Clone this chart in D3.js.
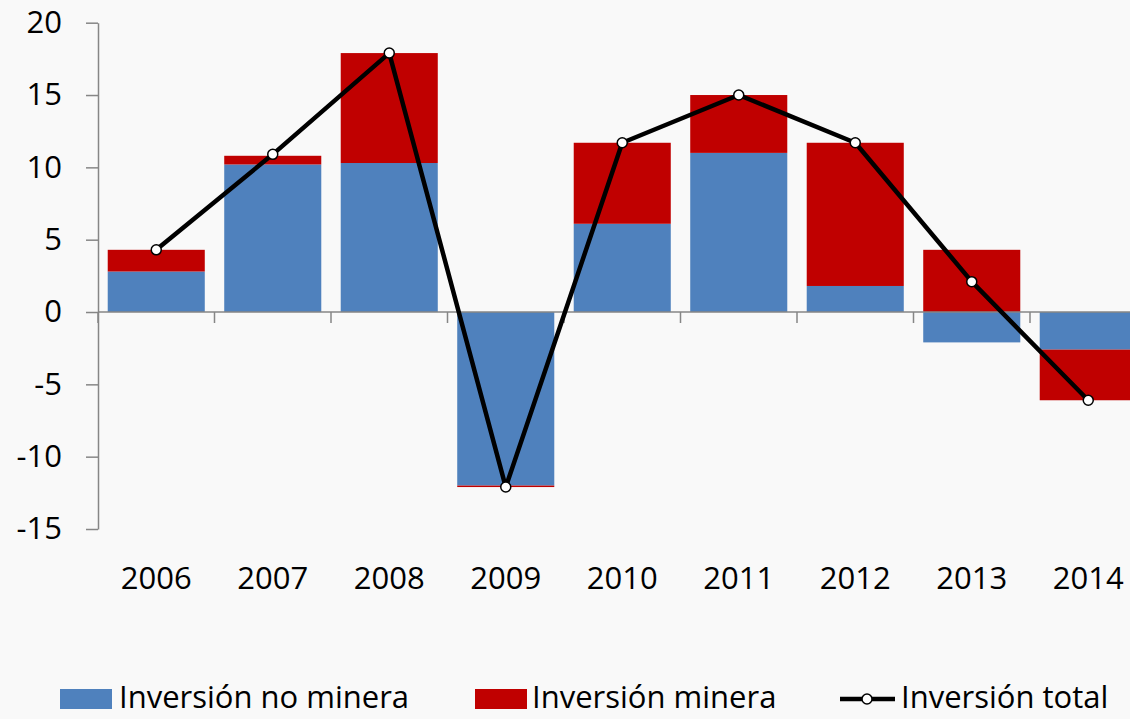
<!DOCTYPE html>
<html>
<head>
<meta charset="utf-8">
<script src="https://cdn.jsdelivr.net/npm/d3@7"></script>
<style>
  body { margin: 0; background: #f9f9f9; }
  svg { display: block; font-family: "Open Sans", sans-serif; }
</style>
</head>
<body>
<div id="chart"></div>
<script>
const years = ["2006", "2007", "2008", "2009", "2010", "2011", "2012", "2013", "2014"]
const noMinera = [2.8, 10.2, 10.3, -12.0, 6.1, 11.0, 1.8, -2.1, -2.6]
const minera = [1.5, 0.6, 7.6, -0.1, 5.6, 4.0, 9.9, 4.3, -3.5]
const total = [4.3, 10.9, 17.9, -12.1, 11.7, 15.0, 11.7, 2.1, -6.1]
const yTicks = [-15, -10, -5, 0, 5, 10, 15, 20]
const seriesNames = ["Inversión no minera", "Inversión minera", "Inversión total"]
const colors = ["#4f81bd", "#c00000"]

const width = 1130
const height = 719
const x0 = 98
const plotW = 9 * 116.5

const svg = d3.select('#chart')
  .append("svg")
  .attr("width", width)
  .attr("height", height);

const table = years.map((y, i) => ({ year: y, a: noMinera[i], b: minera[i], t: total[i] }));

const xScale = d3.scaleBand().domain(years).range([x0, x0 + plotW]).paddingInner(0.167).paddingOuter(0.0835);
const yScale = d3.scaleLinear().domain([-15, 20]).range([529, 22.7]);

const stacked = d3.stack().keys(["a", "b"]).offset(d3.stackOffsetDiverging)(table);

svg.selectAll('.series')
  .data(stacked)
  .enter()
  .append('g')
  .attr('fill', (d, i) => colors[i])
  .selectAll('rect')
  .data(d => d)
  .enter()
  .append('rect')
  .attr('x', d => xScale(d.data.year))
  .attr('width', xScale.bandwidth())
  .attr('y', d => yScale(d[1]))
  .attr('height', d => Math.max(0, yScale(d[0]) - yScale(d[1])));

// y axis
const yAxis = svg.append("g")
  .attr("transform", `translate(${x0},0)`)
  .call(d3.axisLeft(yScale).tickValues(yTicks).tickFormat(d => String(d)).tickSize(12).tickPadding(24).tickSizeOuter(0));
yAxis.select(".domain").attr("stroke", "#868686").attr("stroke-width", 1.5);
yAxis.selectAll(".tick line").attr("stroke", "#868686").attr("stroke-width", 1.5);
yAxis.selectAll(".tick text").attr("font-size", 31).attr("fill", "#000").attr("font-family", "Open Sans");

// x axis at zero, ticks between categories
const xAxisG = svg.append("g").attr("transform", `translate(0,${yScale(0)})`);
xAxisG.append("line")
  .attr("x1", x0).attr("x2", x0 + plotW)
  .attr("stroke", "#868686").attr("stroke-width", 1.5);
xAxisG.selectAll(".sep")
  .data(years)
  .enter()
  .append("line")
  .attr("x1", d => xScale(d) - xScale.step() * xScale.paddingInner() / 2)
  .attr("x2", d => xScale(d) - xScale.step() * xScale.paddingInner() / 2)
  .attr("y1", 0).attr("y2", 11)
  .attr("stroke", "#868686").attr("stroke-width", 1.5);

svg.selectAll(".xlab")
  .data(years)
  .enter()
  .append("text")
  .attr("x", d => xScale(d) + xScale.bandwidth() / 2)
  .attr("y", 589)
  .attr("text-anchor", "middle")
  .attr("font-size", 31)
  .text(d => d);

// total line
const line = d3.line()
  .x(d => xScale(d.year) + xScale.bandwidth() / 2)
  .y(d => yScale(d.t));

svg.append("path")
  .datum(table)
  .attr("d", line)
  .attr("fill", "none")
  .attr("stroke", "#000")
  .attr("stroke-width", 4.5)
  .attr("stroke-linejoin", "round");

svg.selectAll(".pt")
  .data(table)
  .enter()
  .append("circle")
  .attr("cx", d => xScale(d.year) + xScale.bandwidth() / 2)
  .attr("cy", d => yScale(d.t))
  .attr("r", 5)
  .attr("fill", "#fff")
  .attr("stroke", "#000")
  .attr("stroke-width", 1.5);

// legend
const legend = svg.append("g");
const legX = [60, 475, 840];
legend.selectAll(".sw")
  .data(colors)
  .enter()
  .append("rect")
  .attr("x", (d, i) => legX[i])
  .attr("y", 689)
  .attr("width", 52)
  .attr("height", 20)
  .attr("fill", d => d);
legend.append("line")
  .attr("x1", legX[2]).attr("x2", legX[2] + 55)
  .attr("y1", 699).attr("y2", 699)
  .attr("stroke", "#000").attr("stroke-width", 4.5);
legend.append("circle")
  .attr("cx", legX[2] + 27).attr("cy", 699).attr("r", 5)
  .attr("fill", "#fff").attr("stroke", "#000").attr("stroke-width", 1.5);
legend.selectAll(".lt")
  .data(seriesNames)
  .enter()
  .append("text")
  .attr("x", (d, i) => [119, 532, 901][i])
  .attr("y", 708)
  .attr("font-size", 31)
  .text(d => d);
</script>
</body>
</html>
